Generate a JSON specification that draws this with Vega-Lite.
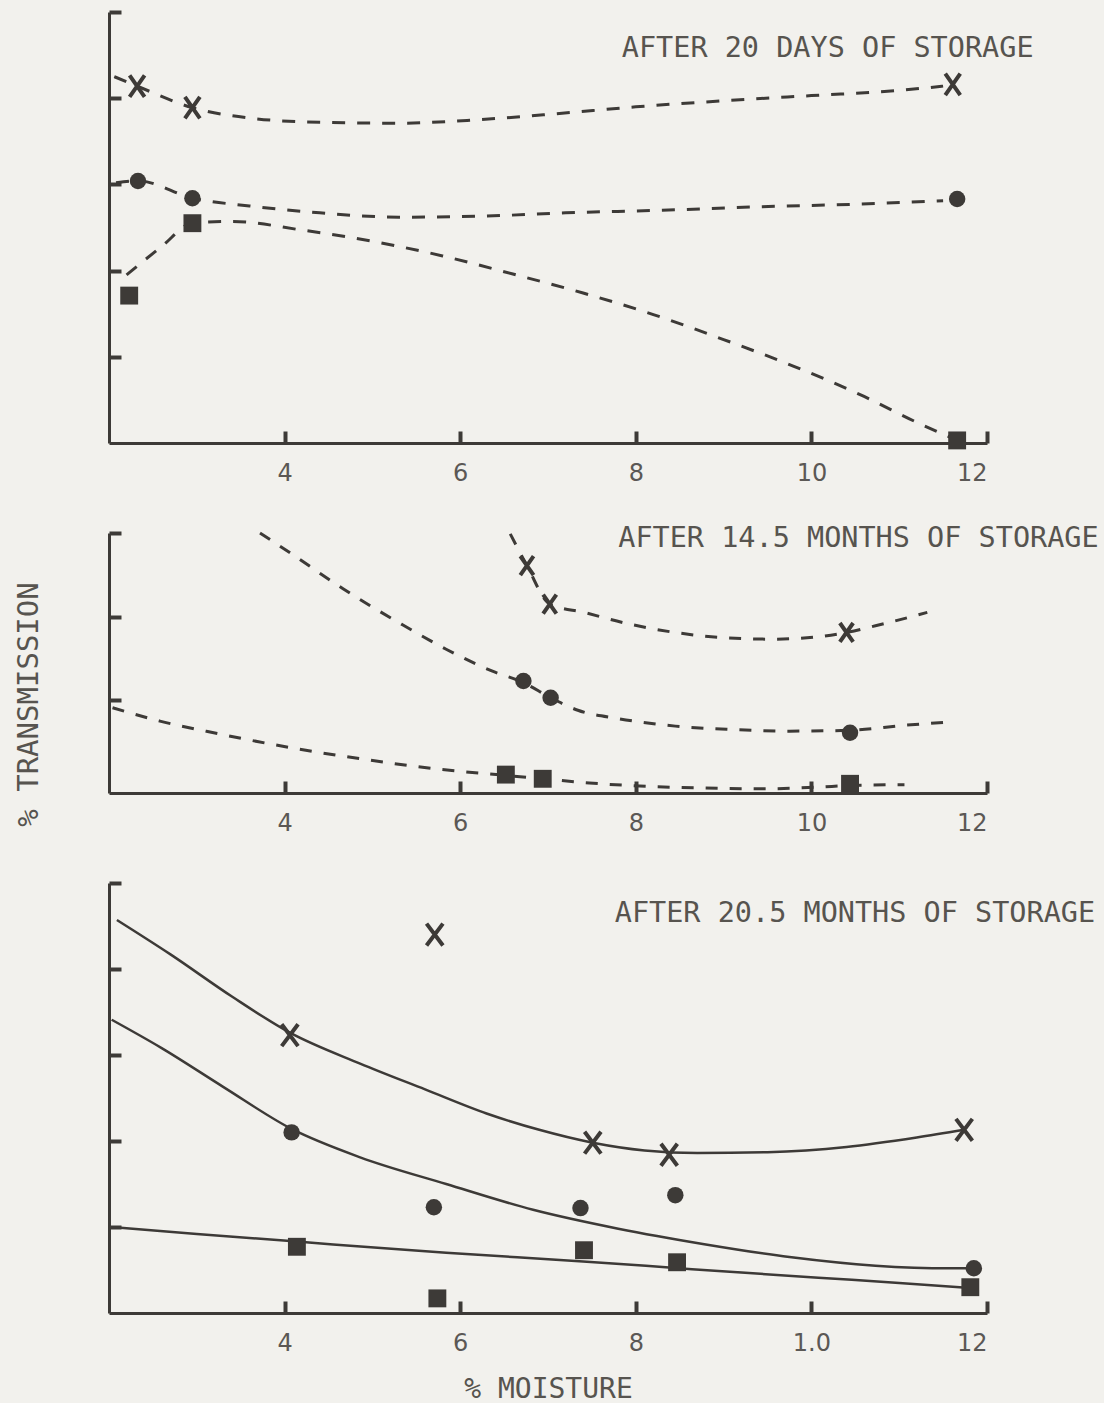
{
  "$schema": "https://vega.github.io/schema/vega-lite/v6.json",
  "background": "#f2f1ed",
  "padding": {"left": 14, "top": 10, "right": 5, "bottom": 0},
  "spacing": 90,
  "bounds": "flush",
  "config": {
    "view": {"stroke": null},
    "axis": {
      "domainColor": "#3d3a37", "domainWidth": 3, "tickColor": "#3d3a37", "tickWidth": 4, "tickSize": -12,
      "grid": false, "labelFont": "DejaVu Sans", "labelFontSize": 24, "labelColor": "#5b5855", "labelPadding": 30,
      "titleFont": "DejaVu Sans Mono", "titleFontSize": 28, "titleFontWeight": "normal", "titleColor": "#57544f"
    }
  },
  "datasets": {
    "p1pts": [
      {"series": "X", "x": 2.32, "y": 4.14}, {"series": "X", "x": 2.95, "y": 3.89}, {"series": "X", "x": 11.61, "y": 4.16},
      {"series": "circle", "x": 2.33, "y": 3.04}, {"series": "circle", "x": 2.95, "y": 2.84}, {"series": "circle", "x": 11.66, "y": 2.83},
      {"series": "square", "x": 2.23, "y": 1.71}, {"series": "square", "x": 2.95, "y": 2.55}, {"series": "square", "x": 11.66, "y": 0.03}
    ],
    "p1curve": [
      {"series": "X", "x": 2.06, "y": 4.25}, {"series": "X", "x": 2.32, "y": 4.14}, {"series": "X", "x": 2.95, "y": 3.89},
      {"series": "X", "x": 3.6, "y": 3.77}, {"series": "X", "x": 4.4, "y": 3.72}, {"series": "X", "x": 5.3, "y": 3.71},
      {"series": "X", "x": 6.2, "y": 3.75}, {"series": "X", "x": 7.1, "y": 3.82}, {"series": "X", "x": 8.0, "y": 3.9},
      {"series": "X", "x": 9.0, "y": 3.97}, {"series": "X", "x": 10.0, "y": 4.03}, {"series": "X", "x": 11.0, "y": 4.09},
      {"series": "X", "x": 11.5, "y": 4.14},
      {"series": "circle", "x": 2.08, "y": 3.02}, {"series": "circle", "x": 2.33, "y": 3.04}, {"series": "circle", "x": 2.95, "y": 2.84},
      {"series": "circle", "x": 3.6, "y": 2.75}, {"series": "circle", "x": 4.4, "y": 2.67}, {"series": "circle", "x": 5.3, "y": 2.62},
      {"series": "circle", "x": 6.2, "y": 2.63}, {"series": "circle", "x": 7.2, "y": 2.67}, {"series": "circle", "x": 8.3, "y": 2.7},
      {"series": "circle", "x": 9.4, "y": 2.74}, {"series": "circle", "x": 10.5, "y": 2.77}, {"series": "circle", "x": 11.5, "y": 2.81},
      {"series": "square", "x": 2.2, "y": 1.95}, {"series": "square", "x": 2.6, "y": 2.28}, {"series": "square", "x": 2.95, "y": 2.55},
      {"series": "square", "x": 3.4, "y": 2.57}, {"series": "square", "x": 4.2, "y": 2.47}, {"series": "square", "x": 5.0, "y": 2.34},
      {"series": "square", "x": 5.8, "y": 2.17}, {"series": "square", "x": 6.6, "y": 1.96}, {"series": "square", "x": 7.4, "y": 1.74},
      {"series": "square", "x": 8.2, "y": 1.49}, {"series": "square", "x": 9.0, "y": 1.2}, {"series": "square", "x": 9.8, "y": 0.89},
      {"series": "square", "x": 10.6, "y": 0.54}, {"series": "square", "x": 11.2, "y": 0.24}, {"series": "square", "x": 11.66, "y": 0.03}
    ],
    "p2pts": [
      {"series": "X", "x": 6.76, "y": 2.72}, {"series": "X", "x": 7.02, "y": 2.26}, {"series": "X", "x": 10.4, "y": 1.92},
      {"series": "circle", "x": 6.72, "y": 1.34}, {"series": "circle", "x": 7.03, "y": 1.14}, {"series": "circle", "x": 10.44, "y": 0.72},
      {"series": "square", "x": 6.52, "y": 0.22}, {"series": "square", "x": 6.94, "y": 0.17}, {"series": "square", "x": 10.44, "y": 0.11}
    ],
    "p2curve": [
      {"series": "X", "x": 6.57, "y": 3.1}, {"series": "X", "x": 6.76, "y": 2.72}, {"series": "X", "x": 7.02, "y": 2.26},
      {"series": "X", "x": 7.41, "y": 2.16}, {"series": "X", "x": 7.93, "y": 2.02}, {"series": "X", "x": 8.45, "y": 1.92},
      {"series": "X", "x": 8.97, "y": 1.86}, {"series": "X", "x": 9.56, "y": 1.84}, {"series": "X", "x": 10.08, "y": 1.87},
      {"series": "X", "x": 10.4, "y": 1.92}, {"series": "X", "x": 10.73, "y": 2.0}, {"series": "X", "x": 11.32, "y": 2.16},
      {"series": "circle", "x": 3.72, "y": 3.11}, {"series": "circle", "x": 4.08, "y": 2.86}, {"series": "circle", "x": 4.67, "y": 2.44},
      {"series": "circle", "x": 5.33, "y": 2.02}, {"series": "circle", "x": 5.84, "y": 1.72}, {"series": "circle", "x": 6.36, "y": 1.46},
      {"series": "circle", "x": 6.72, "y": 1.32}, {"series": "circle", "x": 7.03, "y": 1.14}, {"series": "circle", "x": 7.34, "y": 0.99},
      {"series": "circle", "x": 7.8, "y": 0.89}, {"series": "circle", "x": 8.45, "y": 0.8}, {"series": "circle", "x": 9.1, "y": 0.76},
      {"series": "circle", "x": 9.75, "y": 0.74}, {"series": "circle", "x": 10.44, "y": 0.75}, {"series": "circle", "x": 11.06, "y": 0.81},
      {"series": "circle", "x": 11.58, "y": 0.85},
      {"series": "square", "x": 2.04, "y": 1.02}, {"series": "square", "x": 2.58, "y": 0.86}, {"series": "square", "x": 3.24, "y": 0.71},
      {"series": "square", "x": 4.08, "y": 0.54}, {"series": "square", "x": 4.86, "y": 0.41}, {"series": "square", "x": 5.71, "y": 0.29},
      {"series": "square", "x": 6.52, "y": 0.21}, {"series": "square", "x": 6.94, "y": 0.17}, {"series": "square", "x": 7.47, "y": 0.12},
      {"series": "square", "x": 8.12, "y": 0.08}, {"series": "square", "x": 8.78, "y": 0.06}, {"series": "square", "x": 9.43, "y": 0.05},
      {"series": "square", "x": 10.08, "y": 0.07}, {"series": "square", "x": 10.44, "y": 0.09}, {"series": "square", "x": 11.06, "y": 0.1}
    ],
    "p3pts": [
      {"series": "X", "x": 5.71, "y": 4.4}, {"series": "X", "x": 4.06, "y": 3.23}, {"series": "X", "x": 7.51, "y": 1.98},
      {"series": "X", "x": 8.38, "y": 1.84}, {"series": "X", "x": 11.74, "y": 2.13},
      {"series": "circle", "x": 4.08, "y": 2.1}, {"series": "circle", "x": 5.7, "y": 1.23}, {"series": "circle", "x": 7.37, "y": 1.22},
      {"series": "circle", "x": 8.45, "y": 1.37}, {"series": "circle", "x": 11.85, "y": 0.52},
      {"series": "square", "x": 4.14, "y": 0.77}, {"series": "square", "x": 7.41, "y": 0.73}, {"series": "square", "x": 8.47, "y": 0.59},
      {"series": "square", "x": 11.81, "y": 0.3}, {"series": "square", "x": 5.74, "y": 0.17}
    ],
    "p3curve": [
      {"series": "X", "x": 2.09, "y": 4.57}, {"series": "X", "x": 2.7, "y": 4.17}, {"series": "X", "x": 3.4, "y": 3.68},
      {"series": "X", "x": 4.06, "y": 3.26}, {"series": "X", "x": 4.86, "y": 2.9}, {"series": "X", "x": 5.6, "y": 2.6},
      {"series": "X", "x": 6.3, "y": 2.32}, {"series": "X", "x": 6.9, "y": 2.13}, {"series": "X", "x": 7.51, "y": 1.98},
      {"series": "X", "x": 8.1, "y": 1.89}, {"series": "X", "x": 8.7, "y": 1.86}, {"series": "X", "x": 9.5, "y": 1.87},
      {"series": "X", "x": 10.4, "y": 1.93}, {"series": "X", "x": 11.2, "y": 2.04}, {"series": "X", "x": 11.74, "y": 2.13},
      {"series": "circle", "x": 2.03, "y": 3.41}, {"series": "circle", "x": 2.6, "y": 3.08}, {"series": "circle", "x": 3.3, "y": 2.63},
      {"series": "circle", "x": 4.08, "y": 2.14}, {"series": "circle", "x": 4.86, "y": 1.81}, {"series": "circle", "x": 5.84, "y": 1.5},
      {"series": "circle", "x": 6.83, "y": 1.2}, {"series": "circle", "x": 7.8, "y": 0.98}, {"series": "circle", "x": 8.78, "y": 0.8},
      {"series": "circle", "x": 9.75, "y": 0.65}, {"series": "circle", "x": 10.73, "y": 0.55}, {"series": "circle", "x": 11.58, "y": 0.52},
      {"series": "circle", "x": 11.85, "y": 0.52},
      {"series": "square", "x": 2.13, "y": 0.99}, {"series": "square", "x": 3.0, "y": 0.92}, {"series": "square", "x": 4.14, "y": 0.83},
      {"series": "square", "x": 5.84, "y": 0.7}, {"series": "square", "x": 7.4, "y": 0.6}, {"series": "square", "x": 8.64, "y": 0.51},
      {"series": "square", "x": 10.08, "y": 0.41}, {"series": "square", "x": 11.0, "y": 0.35}, {"series": "square", "x": 11.81, "y": 0.29}
    ],
    "titles": [
      {"panel": 1, "label": "AFTER 20 DAYS OF STORAGE", "x": 7.84, "y": 4.58},
      {"panel": 2, "label": "AFTER 14.5 MONTHS OF STORAGE", "x": 7.8, "y": 3.05},
      {"panel": 3, "label": "AFTER 20.5 MONTHS OF STORAGE", "x": 7.76, "y": 4.65}
    ]
  },
  "vconcat": [
    {
      "width": 878, "height": 431,
      "layer": [
        {
          "data": {"name": "p1curve"},
          "mark": {"type": "line", "interpolate": "monotone", "strokeDash": [13, 12], "strokeWidth": 3, "color": "#3d3a37"},
          "encoding": {
            "x": {"field": "x", "type": "quantitative", "scale": {"domain": [2, 12], "nice": false}, "axis": {"title": null, "values": [4, 6, 8, 10, 12], "format": "d"}},
            "y": {"field": "y", "type": "quantitative", "scale": {"domain": [0, 5], "nice": false}, "axis": {"title": null, "labels": false, "values": [1, 2, 3, 4, 5]}},
            "detail": {"field": "series"}
          }
        },
        {
          "data": {"name": "p1pts"},
          "transform": [{"filter": "datum.series != 'X'"}],
          "mark": {"type": "point", "filled": true, "color": "#3d3a37", "opacity": 1},
          "encoding": {
            "x": {"field": "x", "type": "quantitative"},
            "y": {"field": "y", "type": "quantitative"},
            "shape": {"field": "series", "scale": {"domain": ["circle", "square"], "range": ["circle", "square"]}, "legend": null},
            "size": {"field": "series", "scale": {"domain": ["circle", "square"], "range": [270, 320]}, "legend": null}
          }
        },
        {
          "data": {"name": "p1pts"},
          "transform": [{"filter": "datum.series == 'X'"}],
          "mark": {"type": "point", "shape": "M-0.7,-1L0.7,1M0.7,-1L-0.7,1", "size": 460, "filled": false, "stroke": "#3d3a37", "strokeWidth": 4, "opacity": 1},
          "encoding": {"x": {"field": "x", "type": "quantitative"}, "y": {"field": "y", "type": "quantitative"}}
        },
        {
          "data": {"name": "titles"},
          "transform": [{"filter": "datum.panel == 1"}],
          "mark": {"type": "text", "align": "left", "baseline": "middle", "font": "DejaVu Sans Mono", "fontSize": 28.5, "color": "#57544f"},
          "encoding": {"x": {"field": "x", "type": "quantitative"}, "y": {"field": "y", "type": "quantitative"}, "text": {"field": "label"}}
        }
      ]
    },
    {
      "width": 878, "height": 260,
      "layer": [
        {
          "data": {"name": "p2curve"},
          "mark": {"type": "line", "interpolate": "monotone", "strokeDash": [12, 12], "strokeWidth": 3, "color": "#3d3a37"},
          "encoding": {
            "x": {"field": "x", "type": "quantitative", "scale": {"domain": [2, 12], "nice": false}, "axis": {"title": null, "values": [4, 6, 8, 10, 12], "format": "d"}},
            "y": {"field": "y", "type": "quantitative", "scale": {"domain": [0, 3.11], "nice": false}, "axis": {"title": "% TRANSMISSION", "titleFontSize": 29, "labels": false, "values": [1.11, 2.11, 3.11], "titleX": -66, "titleY": 171, "titleAngle": 270, "titleAlign": "center", "titleBaseline": "bottom"}},
            "detail": {"field": "series"}
          }
        },
        {
          "data": {"name": "p2pts"},
          "transform": [{"filter": "datum.series != 'X'"}],
          "mark": {"type": "point", "filled": true, "color": "#3d3a37", "opacity": 1},
          "encoding": {
            "x": {"field": "x", "type": "quantitative"},
            "y": {"field": "y", "type": "quantitative"},
            "shape": {"field": "series", "scale": {"domain": ["circle", "square"], "range": ["circle", "square"]}, "legend": null},
            "size": {"field": "series", "scale": {"domain": ["circle", "square"], "range": [300, 250]}, "legend": null}
          }
        },
        {
          "data": {"name": "p2pts"},
          "transform": [{"filter": "datum.series == 'X'"}],
          "mark": {"type": "point", "shape": "M-0.7,-1L0.7,1M0.7,-1L-0.7,1", "size": 360, "filled": false, "stroke": "#3d3a37", "strokeWidth": 4, "opacity": 1},
          "encoding": {"x": {"field": "x", "type": "quantitative"}, "y": {"field": "y", "type": "quantitative"}}
        },
        {
          "data": {"name": "titles"},
          "transform": [{"filter": "datum.panel == 2"}],
          "mark": {"type": "text", "align": "left", "baseline": "middle", "font": "DejaVu Sans Mono", "fontSize": 28.5, "color": "#57544f"},
          "encoding": {"x": {"field": "x", "type": "quantitative"}, "y": {"field": "y", "type": "quantitative"}, "text": {"field": "label"}}
        }
      ]
    },
    {
      "width": 878, "height": 430,
      "layer": [
        {
          "data": {"name": "p3curve"},
          "mark": {"type": "line", "interpolate": "monotone", "strokeWidth": 2.5, "color": "#3d3a37"},
          "encoding": {
            "x": {"field": "x", "type": "quantitative", "scale": {"domain": [2, 12], "nice": false}, "axis": {"title": "% MOISTURE", "titlePadding": 20, "values": [4, 6, 8, 10, 12], "labelExpr": "datum.value == 10 ? '1.0' : format(datum.value, 'd')"}},
            "y": {"field": "y", "type": "quantitative", "scale": {"domain": [0, 5], "nice": false}, "axis": {"title": null, "labels": false, "values": [1, 2, 3, 4, 5]}},
            "detail": {"field": "series"}
          }
        },
        {
          "data": {"name": "p3pts"},
          "transform": [{"filter": "datum.series != 'X'"}],
          "mark": {"type": "point", "filled": true, "color": "#3d3a37", "opacity": 1},
          "encoding": {
            "x": {"field": "x", "type": "quantitative"},
            "y": {"field": "y", "type": "quantitative"},
            "shape": {"field": "series", "scale": {"domain": ["circle", "square"], "range": ["circle", "square"]}, "legend": null},
            "size": {"field": "series", "scale": {"domain": ["circle", "square"], "range": [270, 280]}, "legend": null}
          }
        },
        {
          "data": {"name": "p3pts"},
          "transform": [{"filter": "datum.series == 'X'"}],
          "mark": {"type": "point", "shape": "M-0.75,-1L0.75,1M0.75,-1L-0.75,1", "size": 480, "filled": false, "stroke": "#3d3a37", "strokeWidth": 4, "opacity": 1},
          "encoding": {"x": {"field": "x", "type": "quantitative"}, "y": {"field": "y", "type": "quantitative"}}
        },
        {
          "data": {"name": "titles"},
          "transform": [{"filter": "datum.panel == 3"}],
          "mark": {"type": "text", "align": "left", "baseline": "middle", "font": "DejaVu Sans Mono", "fontSize": 28.5, "color": "#57544f"},
          "encoding": {"x": {"field": "x", "type": "quantitative"}, "y": {"field": "y", "type": "quantitative"}, "text": {"field": "label"}}
        }
      ]
    }
  ]
}
